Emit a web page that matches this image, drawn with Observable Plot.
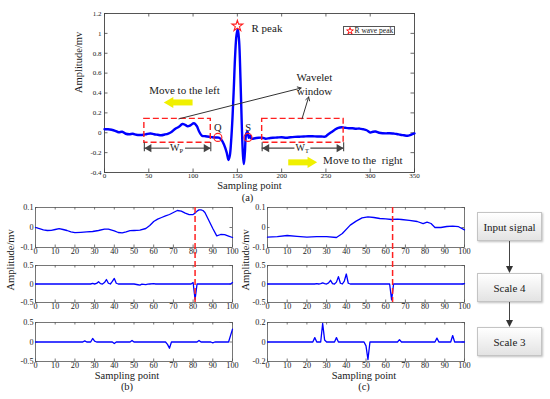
<!DOCTYPE html>
<html><head><meta charset="utf-8">
<script src="https://cdn.jsdelivr.net/npm/d3@7"></script>
<script src="https://cdn.jsdelivr.net/npm/@observablehq/plot@0.6"></script>
<style>
body{margin:0;background:#fff;}
#fig{position:relative;width:550px;height:399px;overflow:hidden;font-family:"Liberation Serif","Times New Roman",serif;color:#1a1a1a;}
#fig > svg{position:absolute;overflow:visible;background:transparent;max-width:none;}
.box{position:absolute;left:477px;width:65px;height:29px;box-sizing:border-box;border:1px solid #c4c4c4;background:linear-gradient(#ffffff,#e3e3e3);display:flex;align-items:center;justify-content:center;font-size:11px;color:#1a1a1a;box-shadow:1px 1px 2px rgba(0,0,0,0.25);}
#legend{position:absolute;left:343px;top:26px;width:52px;height:9px;border:1px solid #555;background:#fff;box-sizing:border-box;font-size:7.5px;line-height:7px;white-space:nowrap;display:flex;align-items:center;}
</style></head><body><div id="fig"></div>
<script>
// ---------- data ----------
const aXTicks = [0,50,100,150,200,250,300,350];
const aYTicks = [-0.4,-0.2,0,0.2,0.4,0.6,0.8,1,1.2];
const subXTicks = [0,10,20,30,40,50,60,70,80,90,100];

const ecgX = [0,4,8,12,16,20,24,28,32,36,40,44,48,52,56,60,64,68,72,76,80,84,88,91,94,97,101,104,107,110,114,118,122,126,129,132,135,138,140,141.5,143,144.5,146,147.5,149,150.5,152,153.5,155,156.3,157.3,158.5,160,161.5,163,164.5,166,170,174,178,182,186,190,195,200,205,210,215,220,225,230,235,240,245,249,252,256,260,264,268,272,276,280,284,288,292,296,300,303,306,310,314,318,322,326,330,334,338,342,346,350];
const ecgY = [0.035,0.035,0.03,0.02,0.005,0.01,-0.01,-0.015,-0.01,-0.02,-0.022,-0.02,-0.012,-0.008,-0.015,-0.02,-0.025,-0.018,-0.008,0.01,0.04,0.06,0.088,0.08,0.065,0.075,0.095,0.07,0.01,-0.03,-0.035,-0.04,-0.045,-0.048,-0.05,-0.07,-0.12,-0.2,-0.275,-0.23,-0.08,0.15,0.45,0.78,0.98,1.045,0.92,0.55,0.08,-0.22,-0.315,-0.2,-0.01,0.01,-0.05,-0.03,-0.06,-0.055,-0.05,-0.05,-0.06,-0.055,-0.05,-0.048,-0.045,-0.05,-0.045,-0.042,-0.04,-0.038,-0.035,-0.035,-0.038,-0.038,-0.04,-0.02,0.005,0.03,0.05,0.055,0.05,0.046,0.045,0.04,0.042,0.035,0.025,0.003,0.01,0.012,0,-0.005,-0.006,-0.005,-0.008,-0.012,-0.02,-0.025,-0.03,-0.02,-0.007];

const rPeakX = [150], rPeakY = [1.075];
const qsNames = ["Q","S"], qsX = [128, 162], qsY = [-0.047, -0.047];

const windowNames = ["P","T"];
const windowStart = [45, 178];
const windowEnd = [120, 270];
const windowLow = -0.1, windowHigh = 0.14;

const b1X = [0,2,4,6,8,10,12,14,16,18,20,23,26,29,32,35,37,40,42,44,46,48,50,53,56,58,60,62,64,66,68,70,72,74,76,78,80,81,82,83,84,85,86,88,90,92,94,96,98,100];
const b1Y = [0,-0.006,-0.012,-0.015,-0.014,-0.01,-0.006,-0.01,-0.015,-0.022,-0.026,-0.024,-0.022,-0.02,-0.015,-0.008,-0.008,-0.017,-0.025,-0.027,-0.022,-0.016,-0.015,-0.013,-0.005,0.01,0.03,0.042,0.05,0.058,0.065,0.075,0.085,0.082,0.072,0.064,0.065,0.072,0.082,0.088,0.088,0.085,0.075,0.035,-0.005,-0.042,-0.035,-0.036,-0.043,-0.05];
const b2X = [0,28,29,30,31,32,33,34,35,36,37,38,39,40,41,42,50,52,53,54,56,57,58,60,61,62,79,80,81,82,83,99,100];
const b2Y = [0,0,0.015,0,0.015,0.06,0.01,0,0.04,0.12,0.02,0,0.07,0.15,0.02,0,0,-0.02,-0.03,-0.005,-0.015,-0.005,0,0.01,0,0,0,0.04,-0.42,0,0,0,0.04];
const b3X = [0,24,25,26,28,29,30,31,39,40,41,48,49,50,66,67,68,69,82,83,84,89,90,91,98,100];
const b3Y = [0,0,0.03,0,0,0.09,0.02,0,0,-0.04,0,0,0.04,0,0,-0.06,-0.16,0,0,0.04,0,0,-0.02,0,0,0.33];

const c1X = [0,5,10,15,20,25,30,35,38,42,45,48,51,54,57,60,63,66,68,72,76,79,81,83,85,88,91,94,97,100];
const c1Y = [-0.048,-0.046,-0.04,-0.044,-0.048,-0.046,-0.046,-0.05,-0.03,0.012,0.032,0.048,0.053,0.05,0.045,0.043,0.04,0.042,0.04,0.036,0.03,0.019,0.027,0.02,0,0,0.005,0.007,0.004,-0.012];
const c2X = [0,24,25,26,27,28,29,30,31,32,33,34,35,36,37,38,39,40,41,42,62,63,64,99,100];
const c2Y = [0,0,0.01,0,0.01,0.03,0.01,0,0.03,0.1,0.01,0,0.05,0.2,0.02,0,0.08,0.27,0.02,0,0,-0.43,0,0,0.01];
const c3X = [0,23,24,25,27,28,29,30,34,35,36,49,50,51,52,66,67,68,85,86,87,93,94,95,100];
const c3Y = [0,0,0.045,0,0,0.19,0.02,0,0,0.045,0,0,-0.04,-0.18,0,0,0.024,0,0,0.04,0,0,0.066,0,0];

const yTicks01 = [-0.1,0,0.1], yTicks05 = [-0.5,0,0.5], yTicks02 = [-0.2,0,0.2];
const scaleMarkB = [81], scaleMarkC = [63.5];
const stages = ["Input signal","Scale 4","Scale 3"];

// ---------- helpers ----------
const fig = document.getElementById("fig");
const FONT = '"Liberation Serif","Times New Roman",serif';
const baseStyle = {fontFamily: FONT, fontSize: "11px", background: "transparent", overflow: "visible", color: "#1a1a1a"};
const fmt = d => String(d);
function inwardTicks(xt, yt, fw, fh, len, stroke) {
  return [
    Plot.tickX(xt, {x: d => d, insetTop: fh - len, stroke, strokeWidth: 0.8}),
    Plot.tickX(xt, {x: d => d, insetBottom: fh - len, stroke, strokeWidth: 0.8}),
    Plot.tickY(yt, {y: d => d, insetRight: fw - len, stroke, strokeWidth: 0.8}),
    Plot.tickY(yt, {y: d => d, insetLeft: fw - len, stroke, strokeWidth: 0.8})
  ];
}
function place(svg, left, top) { svg.style.left = left + "px"; svg.style.top = top + "px"; fig.appendChild(svg); }

// ---------- panel (a) ----------
const aW = 550, aH = 205, aM = {l: 104, r: 136, t: 13, b: 33};
const aFW = aW - aM.l - aM.r, aFH = aH - aM.t - aM.b;
const wArrowY = -0.155, wBarLow = -0.19, wGap = 9;
const wSegs = windowNames.flatMap((n, i) => {
  const c = (windowStart[i] + windowEnd[i]) / 2;
  return [{a: windowStart[i], b: c - wGap}, {a: c + wGap, b: windowEnd[i]}];
});
const wCenters = windowNames.map((n, i) => (windowStart[i] + windowEnd[i]) / 2);
const yellow = "#f0f000";
const aSvg = Plot.plot({
  width: aW, height: aH, marginLeft: aM.l, marginRight: aM.r, marginTop: aM.t, marginBottom: aM.b,
  x: {domain: [0, 350]}, y: {domain: [-0.4, 1.2]},
  style: baseStyle,
  marks: [
    Plot.frame({stroke: "#444", strokeWidth: 0.9}),
    ...inwardTicks(aXTicks, aYTicks, aFW, aFH, 3.5, "#444"),
    Plot.axisX({ticks: aXTicks, tickSize: 0, tickPadding: 1, fontSize: 7, tickFormat: fmt, label: null}),
    Plot.axisY({ticks: aYTicks, tickSize: 0, tickPadding: 3, fontSize: 7, tickFormat: fmt, label: null}),
    Plot.text(["Amplitude/mv"], {frameAnchor: "left", text: d => d, rotate: -90, dx: -26, fontSize: 10.5}),
    Plot.text(["Sampling point"], {frameAnchor: "bottom", text: d => d, dx: -10, dy: 16.5, fontSize: 10.5}),
    Plot.text(["(a)"], {frameAnchor: "bottom", text: d => d, dx: -12, dy: 28, fontSize: 10.5}),
    Plot.line(ecgY, {x: ecgX, y: ecgY, stroke: "#0000ff", strokeWidth: 2.4, curve: "catmull-rom"}),
    Plot.rect(windowNames, {x1: windowStart, x2: windowEnd, y1: windowLow, y2: windowHigh, fill: "none", stroke: "#ff2020", strokeWidth: 1.4, strokeDasharray: "6,3"}),
    // width arrows W_P, W_T
    Plot.ruleY(wSegs, {y: () => wArrowY, x1: "a", x2: "b", stroke: "#444", strokeWidth: 1.1}),
    Plot.ruleX([...windowStart, ...windowEnd], {x: d => d, y1: () => windowLow, y2: () => wBarLow, stroke: "#444", strokeWidth: 1.1}),
    Plot.dot(windowStart, {x: d => d, y: () => wArrowY, symbol: "triangle", rotate: -90, r: 3, fill: "#444", dx: 4.7}),
    Plot.dot(windowEnd, {x: d => d, y: () => wArrowY, symbol: "triangle", rotate: 90, r: 3, fill: "#444", dx: -4.7}),
    Plot.text(windowNames, {x: wCenters, y: () => wArrowY, text: () => "W", textAnchor: "end", dx: 2, fontSize: 10}),
    Plot.text(windowNames, {x: wCenters, y: () => wArrowY, text: d => d, textAnchor: "start", dx: 2, dy: 2.5, fontSize: 6.5}),
    // Q, S, R markers
    Plot.dot(qsNames, {x: qsX, y: qsY, r: 4, stroke: "#ff2020", strokeWidth: 1.1, fill: "none"}),
    Plot.dot(rPeakX, {x: rPeakX, y: rPeakY, symbol: "star", r: 3.4, stroke: "#ff2020", strokeWidth: 1.1, fill: "white"}),
    Plot.text(["R peak"], {x: () => 166, y: () => 1.046, text: d => d, textAnchor: "start", fontSize: 11}),
    Plot.text(qsNames, {x: [127.9, 162.3], y: [0.05, 0.053], text: d => d, fontSize: 10.5}),
    // move arrows
    Plot.text(["Move to the left"], {x: () => 90.3, y: () => 0.426, text: d => d, fontSize: 11}),
    Plot.ruleY(["left"], {y: () => 0.305, x1: () => 67, x2: () => 100, stroke: yellow, strokeWidth: 6, insetLeft: 7}),
    Plot.dot(["left"], {x: () => 67, y: () => 0.305, symbol: "triangle", rotate: -90, r: 4.1, fill: yellow, dx: 6.3}),
    Plot.text(["Move to the  right"], {x: () => 246.8, y: () => -0.282, text: d => d, textAnchor: "start", fontSize: 11}),
    Plot.ruleY(["right"], {y: () => -0.298, x1: () => 208, x2: () => 240, stroke: yellow, strokeWidth: 6, insetRight: 7}),
    Plot.dot(["right"], {x: () => 240, y: () => -0.298, symbol: "triangle", rotate: 90, r: 4.1, fill: yellow, dx: -6.3}),
    // wavelet window pointers
    Plot.text(["Wavelet\nwindow"], {x: () => 237, y: () => 0.493, text: d => d, lineHeight: 1.2, fontSize: 11}),
    Plot.arrow(["a1", "a2"], {x1: [84, 223], y1: [windowHigh, windowHigh], x2: [222, 230.5], y2: [0.45, 0.36], stroke: "#333", strokeWidth: 1, headLength: 6})
  ]
});
place(aSvg, 0, 0);

// legend
const leg = document.createElement("div");
leg.id = "legend";
const starPath = d3.symbol(d3.symbolStar, 14)();
leg.innerHTML = `<svg width="8" height="8" viewBox="-4 -4 8 8" style="margin-left:1.5px;overflow:visible"><path d="${starPath}" fill="white" stroke="red" stroke-width="0.9"/></svg><span style="margin-left:1px">R wave peak</span>`;
fig.appendChild(leg);

// ---------- panels (b), (c) ----------
const rows = [{top: 207, h: 40}, {top: 265, h: 37}, {top: 322, h: 39}];
const colLeft = {b: 35, c: 267};
const fw = 197;
function subplot(col, row, xs, ys, yDomain, yTicks, extra = []) {
  const mL = 30, mR = 12, mT = 6, mB = 14;
  const r = rows[row];
  const svg = Plot.plot({
    width: mL + fw + mR, height: mT + r.h + mB,
    marginLeft: mL, marginRight: mR, marginTop: mT, marginBottom: mB,
    x: {domain: [0, 100]}, y: {domain: yDomain},
    style: baseStyle,
    marks: [
      Plot.frame({stroke: "#555", strokeWidth: 0.8}),
      ...inwardTicks(subXTicks, yTicks, fw, r.h, 2.5, "#555"),
      Plot.axisX({ticks: subXTicks, tickSize: 0, tickPadding: 0.5, fontSize: 8.2, tickFormat: fmt, label: null}),
      Plot.axisY({ticks: yTicks, tickSize: 0, tickPadding: 2, fontSize: 8.2, tickFormat: fmt, label: null}),
      Plot.line(ys, {x: xs, y: ys, stroke: "#0000ff", strokeWidth: 1.3}),
      ...extra
    ]
  });
  place(svg, colLeft[col] - mL, r.top - mT);
}
const rowGap = rows[1].top - rows[0].top;
const dash = (xv) => Plot.ruleX(xv, {x: d => d, stroke: "#ff2020", strokeWidth: 1.5, strokeDasharray: "6,3", insetTop: -rowGap});
const ampLabel = (dx) => Plot.text(["Amplitude/mv"], {frameAnchor: "left", text: d => d, rotate: -90, dx, dy: 6.5, fontSize: 10.5});
const bottomLabels = (dx, tag) => [
  Plot.text(["Sampling point"], {frameAnchor: "bottom", text: d => d, dx, dy: 17, fontSize: 10.5}),
  Plot.text([tag], {frameAnchor: "bottom", text: d => d, dx, dy: 28.5, fontSize: 10.5})
];

subplot("b", 0, b1X, b1Y, [-0.1, 0.1], yTicks01);
subplot("b", 1, b2X, b2Y, [-0.5, 0.5], yTicks05, [ampLabel(-25), dash(scaleMarkB)]);
subplot("b", 2, b3X, b3Y, [-0.5, 0.5], yTicks05, bottomLabels(-7, "(b)"));
subplot("c", 0, c1X, c1Y, [-0.1, 0.1], yTicks01);
subplot("c", 1, c2X, c2Y, [-0.5, 0.5], yTicks05, [ampLabel(-22), dash(scaleMarkC)]);
subplot("c", 2, c3X, c3Y, [-0.2, 0.2], yTicks02, bottomLabels(-2, "(c)"));

// ---------- flow chart ----------
const flowTop = [212, 273, 327], flowH = 29, flowCx = 509.5;
stages.forEach((s, i) => {
  const d = document.createElement("div");
  d.className = "box"; d.style.top = flowTop[i] + "px"; d.textContent = s;
  fig.appendChild(d);
});
const arr = document.createElementNS("http://www.w3.org/2000/svg", "svg");
arr.setAttribute("width", 550); arr.setAttribute("height", 399);
let inner = "";
for (let i = 0; i < stages.length - 1; i++) {
  const y1 = flowTop[i] + flowH, y2 = flowTop[i + 1];
  inner += `<line x1="${flowCx}" x2="${flowCx}" y1="${y1}" y2="${y2 - 6}" stroke="#444" stroke-width="1"/>`;
  inner += `<path d="M${flowCx - 3.5},${y2 - 7} L${flowCx + 3.5},${y2 - 7} L${flowCx},${y2} Z" fill="#333"/>`;
}
arr.innerHTML = inner;
place(arr, 0, 0);
</script></body></html>
